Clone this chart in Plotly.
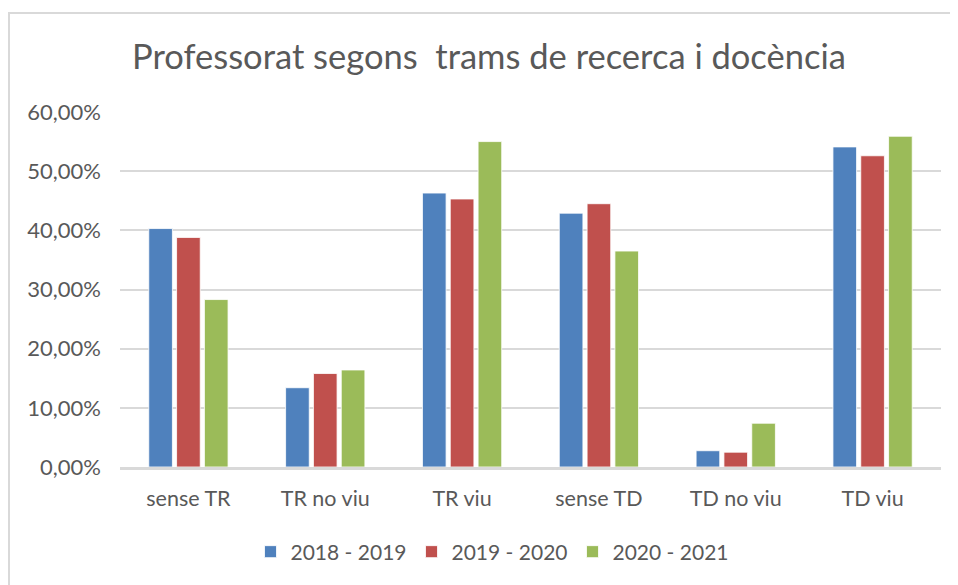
import plotly.graph_objects as go

categories = ["sense TR", "TR no viu", "TR viu", "sense TD", "TD no viu", "TD viu"]
series_names = ["2018 - 2019", "2019 - 2020", "2020 - 2021"]
values_2018_2019 = [0.403, 0.134, 0.463, 0.429, 0.0275, 0.541]
values_2019_2020 = [0.388, 0.158, 0.453, 0.445, 0.025, 0.526]
values_2020_2021 = [0.283, 0.164, 0.550, 0.365, 0.074, 0.559]
y_tick_values = [0, 0.1, 0.2, 0.3, 0.4, 0.5, 0.6]

colors = ["#4F81BD", "#C0504D", "#9BBB59"]
OFF = 8  # page body margin
SW, SH = 958, 585  # screen size
W, H = SW - OFF, SH - OFF
# target pixel positions on screen
L_s, R_s, T_s, B_s = 120, 941, 112, 467
L, R, T, B = L_s - OFF, SW - R_s, T_s - OFF, SH - B_s
FONT = "Lato"
GREY = "#595959"

fig = go.Figure()
for name, vals, col in zip(series_names, [values_2018_2019, values_2019_2020, values_2020_2021], colors):
    fig.add_trace(go.Bar(
        x=categories, y=vals, name=name,
        marker=dict(color=col, line=dict(color="rgba(255,255,255,0.8)", width=1)),
        hovertemplate="%{x}: %{y:.2%}<extra>" + name + "</extra>",
    ))

pw = W - L - R
ph = H - T - B
def px_x(x):  # screen x -> paper
    return (x - OFF - L) / pw
def px_y(y):  # screen y -> paper
    return (H - B - (y - OFF)) / ph

fig.add_shape(type="line", xref="paper", yref="paper",
              x0=px_x(9), x1=px_x(9), y0=px_y(13), y1=px_y(SH + 5),
              line=dict(color="#d9d9d9", width=2))
fig.add_shape(type="line", xref="paper", yref="paper",
              x0=px_x(8), x1=px_x(SW + 5), y0=px_y(13), y1=px_y(13),
              line=dict(color="#d9d9d9", width=2))

fig.update_layout(
    width=W, height=H,
    margin=dict(l=L, r=R, t=T, b=B, autoexpand=False),
    paper_bgcolor="white", plot_bgcolor="white",
    separators=",.",
    barmode="group", bargap=0.39, bargroupgap=0.15,
    font=dict(family=FONT, color=GREY, size=21),
    title=dict(text="Professorat segons  trams de recerca i docència",
               x=(489 - OFF) / W, xanchor="center", xref="container",
               y=1 - (57 - OFF) / H, yanchor="middle", yref="container",
               font=dict(family=FONT, size=34.5, color=GREY)),
    legend=dict(orientation="h", xref="container", yref="container",
                x=(492 - OFF) / W, xanchor="center", y=1 - (552 - OFF) / H, yanchor="middle",
                font=dict(family=FONT, size=21, color=GREY),
                bgcolor="rgba(0,0,0,0)"),
    showlegend=True,
)
fig.update_yaxes(range=[0, 0.6], tickvals=y_tick_values, tickformat=".2%",
                 showgrid=True, gridcolor="#d9d9d9", gridwidth=1.5,
                 zeroline=False, showline=False, ticks="",
                 ticklabelstandoff=18, tickfont=dict(family=FONT, size=22, color=GREY))
fig.update_xaxes(showline=True, linecolor="#d9d9d9", linewidth=2.5,
                 ticks="", ticklabelstandoff=10,
                 tickfont=dict(family=FONT, size=21.5, color=GREY))

fig.write_html("out.html")
